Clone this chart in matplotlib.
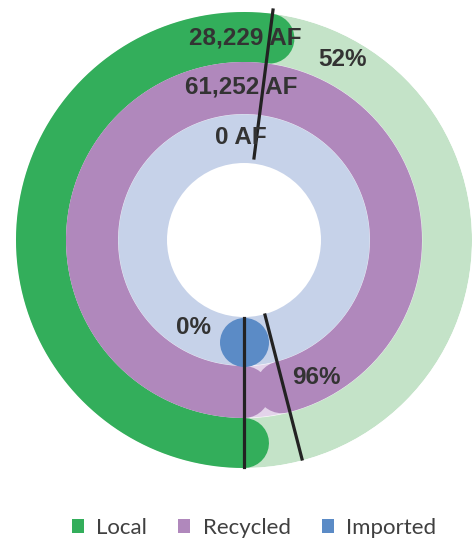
import numpy as np
import matplotlib
matplotlib.use('Agg')
import matplotlib.pyplot as plt
from matplotlib.patches import Patch

# ---- data ----
categories = ['Local', 'Recycled', 'Imported']
volumes_af = [28229, 61252, 0]
shares_pct = [52, 96, 0]
volume_labels = ['28,229 AF', '61,252 AF', '0 AF']
pct_labels = ['52%', '96%', '0%']

# ---- style ----
main_colors = ['#33AE5B', '#B088BC', '#5B8BC6']
track_colors = ['#C4E3C8', '#E3D3EA', '#C6D2E9']
ring_edges = [(178, 228), (126, 178), (77, 126)]   # inner/outer radius in px
text_color = '#333333'

W, H = 473, 540
fig = plt.figure(figsize=(W / 100, H / 100), dpi=100)
cx, cy, R = 244, 240, 228
ax = fig.add_axes([(cx - R) / W, (H - cy - R) / H, 2 * R / W, 2 * R / H],
                  projection='polar')
ax.set_theta_zero_location('S')
ax.set_theta_direction(-1)
ax.set_ylim(0, R)
ax.set_axis_off()

for i, cat in enumerate(categories):
    r0, r1 = ring_edges[i]
    ax.bar(np.pi, r1 - r0, width=2 * np.pi, bottom=r0, color=track_colors[i],
           edgecolor='none', zorder=1)
    rm = (r0 + r1) / 2
    lw_pt = (r1 - r0) * 72 / 100
    end = shares_pct[i] / 100 * 2 * np.pi
    if end > 0:
        th = np.linspace(0, end, 400)
        ax.plot(th, np.full_like(th, rm), color=main_colors[i], lw=lw_pt,
                solid_capstyle='round', zorder=2 + i * 0.1, clip_on=False)
    else:
        ax.plot([0], [rm], marker='o', ms=lw_pt, color=main_colors[i],
                mec='none', zorder=3, clip_on=False)

# thin seams between tracks
th_full = np.linspace(0, 2 * np.pi, 721)
for r in (126, 178):
    ax.plot(th_full, np.full_like(th_full, r), color='white', lw=0.6,
            alpha=0.6, zorder=1.5)

# ---- labels (pixel positions) ----
def px(x, y):
    return x / W, 1 - y / H

lab_font = dict(family=['Liberation Sans', 'DejaVu Sans'], fontweight='bold',
                fontsize=17.5, color=text_color, ha='center', va='center')
vol_pos = [(245, 38), (241, 87), (241, 137)]
pct_pos = [(343, 59), (316, 378), (193, 328)]
for i in range(3):
    fig.text(*px(*vol_pos[i]), volume_labels[i], **lab_font)
    fig.text(*px(*pct_pos[i]), pct_labels[i], **lab_font)

# leader lines
lines = [((273, 10), (254, 158)), ((244, 318), (244, 467)), ((265, 315), (302, 459))]
for (x0, y0), (x1, y1) in lines:
    fig.add_artist(plt.Line2D([x0 / W, x1 / W], [1 - y0 / H, 1 - y1 / H],
                              color='#222222', lw=2.3, transform=fig.transFigure))

# ---- legend ----
handles = [Patch(facecolor=c, edgecolor='none') for c in main_colors]
fig.legend(handles, categories, loc='center', bbox_to_anchor=(254 / W, 1 - 528 / H),
           ncol=3, frameon=False, handlelength=0.55, handleheight=0.55,
           handletextpad=0.55, columnspacing=1.4,
           prop=dict(family=['Lato', 'DejaVu Sans'], size=16), labelcolor='#404040')

fig.savefig('out.png', dpi=100)
